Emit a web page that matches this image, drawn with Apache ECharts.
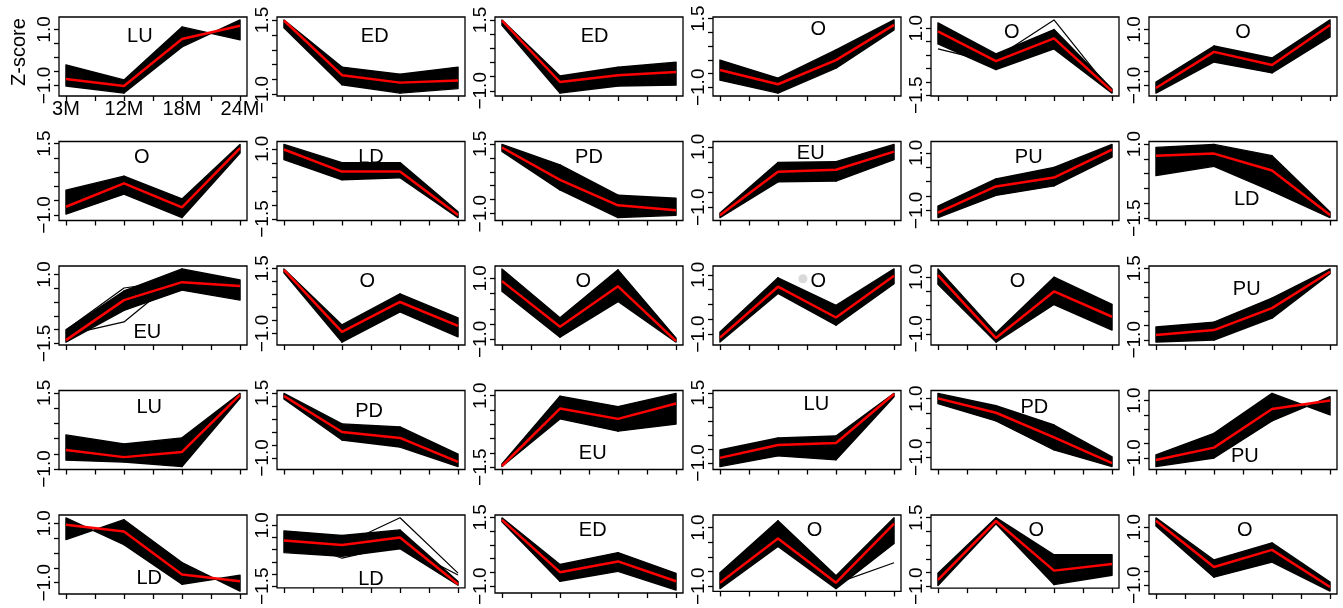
<!DOCTYPE html>
<html>
<head>
<meta charset="utf-8">
<script src="https://cdn.jsdelivr.net/npm/echarts@6/dist/echarts.min.js"></script>
<style>
  html, body { margin: 0; padding: 0; background: #fff; }
  #el { width: 1343px; height: 608px; }
</style>
</head>
<body>
<div id="el"></div>
<script>
// time points on the x axis
const timeLabels = ['3M', '12M', '18M', '24M'];

// cluster names, row by row (6 per row)
const clusterNames = [
  'LU', 'ED', 'ED', 'O', 'O', 'O',
  'O', 'LD', 'PD', 'EU', 'PU', 'LD',
  'EU', 'O', 'O', 'O', 'O', 'PU',
  'LU', 'PD', 'EU', 'LU', 'PD', 'PU',
  'LD', 'LD', 'ED', 'O', 'O', 'O'
];

// red line: mean z-score of each cluster
const meanZ = [
  [-0.77, -1.02, 0.66, 1.13], [1.48, -0.35, -0.60, -0.53], [1.48, -0.69, -0.45, -0.34],
  [-0.37, -0.89, -0.01, 1.27], [0.88, -0.23, 0.62, -1.35], [-1.09, 0.20, -0.27, 1.16],
  [-0.71, 0.11, -0.73, 1.34], [0.98, 0.19, 0.19, -1.36], [1.37, 0.21, -0.70, -0.88],
  [-1.26, 0.18, 0.24, 0.84], [-1.08, -0.17, 0.14, 1.11], [0.61, 0.68, 0.11, -1.39],
  [-1.38, 0.07, 0.72, 0.58], [1.44, -0.94, 0.21, -0.71], [0.91, -0.59, 0.74, -1.06],
  [-1.12, 0.60, -0.44, 0.97], [1.06, -1.15, 0.49, -0.40], [-0.83, -0.66, 0.11, 1.38],
  [-0.38, -0.61, -0.44, 1.43], [1.38, 0.00, -0.23, -1.15], [-1.46, 0.55, 0.19, 0.73],
  [-0.82, -0.36, -0.29, 1.46], [1.01, 0.52, -0.32, -1.20], [-1.07, -0.64, 0.71, 1.00],
  [0.95, 0.72, -0.72, -0.95], [0.38, 0.19, 0.50, -1.42], [1.41, -0.49, -0.10, -0.82],
  [-0.88, 0.63, -0.88, 1.13], [-0.77, 1.38, -0.43, -0.19], [1.22, -0.37, 0.22, -1.06]
];

// upper edge of the black band of gene profiles
const bandHi = [
  [-0.27, -0.80, 1.09, 1.34], [1.50, -0.08, -0.32, -0.08], [1.50, -0.48, -0.17, 0.01],
  [-0.01, -0.67, 0.36, 1.45], [1.20, 0.04, 0.95, -1.27], [-0.88, 0.41, -0.02, 1.34],
  [-0.13, 0.36, -0.44, 1.47], [1.16, 0.51, 0.51, -1.24], [1.48, 0.75, -0.34, -0.45],
  [-1.19, 0.48, 0.51, 1.08], [-0.85, 0.09, 0.49, 1.29], [0.89, 0.99, 0.61, -1.29],
  [-1.01, 0.40, 1.20, 0.80], [1.48, -0.67, 0.52, -0.40], [1.31, -0.29, 1.28, -0.96],
  [-0.93, 0.90, -0.03, 1.20], [1.28, -0.97, 0.99, 0.03], [-0.55, -0.38, 0.46, 1.48],
  [0.12, -0.18, 0.02, 1.48], [1.48, 0.31, 0.19, -0.85], [-1.39, 0.98, 0.62, 1.08],
  [-0.54, -0.11, -0.04, 1.48], [1.18, 0.76, 0.10, -0.99], [-0.89, -0.14, 1.25, 1.14],
  [1.18, 1.12, -0.32, -0.75], [0.77, 0.58, 0.81, -1.31], [1.48, -0.21, 0.22, -0.53],
  [-0.54, 1.23, -0.64, 1.33], [-0.53, 1.50, 0.15, 0.15], [1.32, -0.13, 0.46, -0.89]
];

// lower edge of the black band
const bandLo = [
  [-1.02, -1.27, 0.38, 0.63], [1.24, -0.67, -0.95, -0.80], [1.31, -1.08, -0.83, -0.80],
  [-0.74, -1.21, -0.30, 1.09], [0.42, -0.54, 0.23, -1.42], [-1.27, -0.16, -0.55, 0.73],
  [-0.97, -0.27, -1.09, 1.17], [0.62, -0.10, -0.03, -1.45], [1.23, -0.15, -1.14, -1.06],
  [-1.34, -0.16, -0.13, 0.58], [-1.25, -0.48, -0.15, 0.85], [-0.06, 0.25, -0.59, -1.48],
  [-1.45, -0.30, 0.43, 0.07], [1.33, -1.33, -0.17, -1.13], [0.58, -0.93, 0.24, -1.09],
  [-1.27, 0.37, -0.70, 0.70], [0.74, -1.29, 0.03, -0.87], [-1.08, -1.01, -0.24, 1.31],
  [-0.71, -0.77, -0.92, 1.33], [1.27, -0.31, -0.58, -1.33], [-1.48, 0.19, -0.24, 0.01],
  [-1.13, -0.75, -0.89, 1.36], [0.83, 0.24, -0.75, -1.32], [-1.30, -1.00, 0.29, 0.50],
  [0.45, 0.28, -1.05, -1.28], [-0.12, -0.27, 0.04, -1.46], [1.34, -0.82, -0.46, -1.14],
  [-1.08, 0.36, -1.08, 0.46], [-0.97, 1.28, -0.94, -0.60], [1.04, -0.72, -0.20, -1.20]
];

// segments where the profiles cross over (band pinches): panel -> [seg1, seg2, seg3]
const bandCross = { 0: [0, 0, 1], 23: [0, 0, 1], 24: [1, 0, 1] };

// single profiles that stand out from the band
const strayLines = {
  4: [[0.23, -0.30, 0.70, -1.35], [1.00, -0.10, 1.31, -1.40]],
  12: [[-1.01, 0.51, 0.80, 0.43], [-1.20, -0.72, 1.00, 0.30], [-1.30, 0.10, 1.10, 0.20]],
  25: [[0.50, -0.35, 0.19, -1.04], [0.38, 0.19, 1.31, -0.96]],
  27: [[-0.60, 0.80, -0.90, -0.20]]
};

// title placement inside each box (fraction of width, fraction of height)
const titlePos = [
  [0.43, 0.25], [0.52, 0.25], [0.53, 0.25], [0.56, 0.16], [0.43, 0.20], [0.50, 0.19],
  [0.44, 0.20], [0.50, 0.20], [0.50, 0.20], [0.52, 0.15], [0.52, 0.20], [0.52, 0.74],
  [0.47, 0.84], [0.48, 0.20], [0.47, 0.20], [0.56, 0.19], [0.46, 0.20], [0.52, 0.30],
  [0.48, 0.22], [0.49, 0.26], [0.52, 0.80], [0.55, 0.18], [0.55, 0.21], [0.51, 0.84],
  [0.48, 0.80], [0.50, 0.81], [0.52, 0.19], [0.54, 0.19], [0.56, 0.19], [0.51, 0.19]
];

const FONT = 'Liberation Sans, Arial, Helvetica, sans-serif';
const BOX_W = 188, BOX_H = 79;

function fmt(v) {
  return v.toFixed(1).replace('-', '\u2212');
}

const option = {
  animation: false,
  backgroundColor: '#fff',
  grid: [], xAxis: [], yAxis: [], series: [], graphic: []
};

for (let i = 0; i < clusterNames.length; i++) {
  const r = Math.floor(i / 6), c = i % 6;
  const left = 59 + c * 218;
  const top = 17 + r * 124.5;

  // y range like R: data range + 4%
  let vals = meanZ[i].concat(bandHi[i], bandLo[i]);
  (strayLines[i] || []).forEach(l => { vals = vals.concat(l); });
  const dmin = Math.min(...vals), dmax = Math.max(...vals);
  const pad = 0.04 * (dmax - dmin);
  const ymin = dmin - pad, ymax = dmax + pad;
  const ticks = [];
  for (let t = Math.ceil(ymin * 2) / 2; t <= ymax + 1e-9; t += 0.5) ticks.push(+t.toFixed(1));

  option.grid.push({
    left: left, top: top, width: BOX_W, height: BOX_H,
    show: true, borderColor: '#000', borderWidth: 1.3, backgroundColor: 'transparent'
  });

  option.xAxis.push({
    gridIndex: i, type: 'value', min: 0.88, max: 4.12, position: 'bottom',
    axisLine: { show: false, onZero: false },
    splitLine: { show: false },
    axisTick: {
      show: true, length: 5, lineStyle: { color: '#000', width: 1.3 },
      customValues: [1, 1.5, 2, 2.5, 3, 3.5, 4]
    },
    axisLabel: {
      show: i === 0, customValues: [1, 2, 3, 4],
      formatter: v => timeLabels[Math.round(v) - 1],
      fontSize: 20, color: '#000', fontFamily: FONT, margin: 3
    }
  });

  option.yAxis.push({
    gridIndex: i, type: 'value', min: ymin, max: ymax, position: 'left',
    axisLine: { show: false, onZero: false },
    splitLine: { show: false },
    axisTick: {
      show: true, length: 5, lineStyle: { color: '#000', width: 1.3 },
      customValues: ticks
    },
    axisLabel: {
      customValues: [ticks[0], ticks[ticks.length - 1]],
      formatter: v => fmt(v), rotate: 90,
      fontSize: 19, color: '#000', fontFamily: FONT, margin: 5
    }
  });

  // black band drawn segment by segment
  const cross = bandCross[i] || [0, 0, 0];
  const hi = bandHi[i], lo = bandLo[i];
  option.series.push({
    type: 'custom', xAxisIndex: i, yAxisIndex: i, silent: true, z: 2,
    data: [0, 1, 2].map(s => [s + 1, hi[s], hi[s + 1], lo[s], lo[s + 1]]),
    encode: { x: 0, y: 1 },
    renderItem: function (params, api) {
      const x0 = api.value(0), x1 = x0 + 1;
      const h0 = api.value(1), h1 = api.value(2), l0 = api.value(3), l1 = api.value(4);
      const s = x0 - 1;
      let pts;
      if (cross[s]) {
        pts = [api.coord([x0, h0]), api.coord([x1, l1]), api.coord([x1, h1]), api.coord([x0, l0])];
      } else {
        pts = [api.coord([x0, h0]), api.coord([x1, h1]), api.coord([x1, l1]), api.coord([x0, l0])];
      }
      return {
        type: 'polygon', shape: { points: pts },
        style: { fill: '#000', stroke: '#000', lineWidth: 1.4, lineJoin: 'round' }
      };
    }
  });

  (strayLines[i] || []).forEach(l => {
    option.series.push({
      type: 'line', xAxisIndex: i, yAxisIndex: i, silent: true, z: 3,
      symbol: 'none', data: l.map((v, k) => [k + 1, v]),
      lineStyle: { color: '#000', width: 1.2 }
    });
  });

  option.series.push({
    type: 'line', xAxisIndex: i, yAxisIndex: i, silent: true, z: 5,
    symbol: 'none', data: meanZ[i].map((v, k) => [k + 1, v]),
    lineStyle: { color: '#ff0000', width: 2.5 }
  });

  option.graphic.push({
    type: 'text', z: 10,
    x: left + titlePos[i][0] * BOX_W, y: top + titlePos[i][1] * BOX_H,
    style: {
      text: clusterNames[i], fill: '#000', font: '20px ' + FONT,
      textAlign: 'center', textVerticalAlign: 'middle'
    }
  });
}

// small grey speck seen in one panel
option.series.push({
  type: 'scatter', xAxisIndex: 15, yAxisIndex: 15, silent: true, z: 4,
  symbolSize: 9, data: [[2.43, 0.87]], itemStyle: { color: '#d0d0d0' }
});

option.graphic.push({
  type: 'text', x: 19, y: 52, rotation: Math.PI / 2,
  style: { text: 'Z-score', fill: '#000', font: '20px ' + FONT, textAlign: 'center', textVerticalAlign: 'middle' }
});

const myChart = echarts.init(document.getElementById('el'));
option && myChart.setOption(option);
</script>
</body>
</html>
